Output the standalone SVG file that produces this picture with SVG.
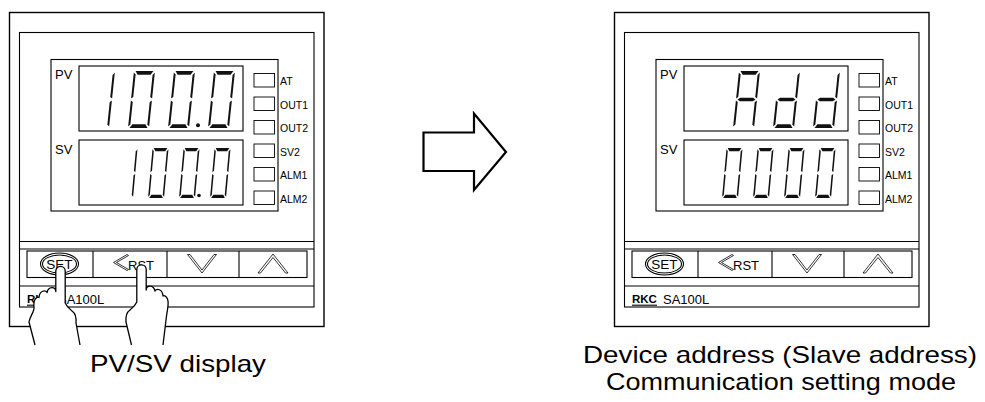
<svg xmlns="http://www.w3.org/2000/svg" width="985" height="402" viewBox="0 0 985 402">
<style>
.ln{fill:none;stroke:#000;stroke-width:1.1}
.bx{fill:#fff;stroke:#000;stroke-width:1.1}
.ob{fill:#fff;stroke:#000;stroke-width:1.4}
.ind{fill:#fff;stroke:#000;stroke-width:0.9}
.seg{fill:#111}
.t{font-family:"Liberation Sans",Arial,sans-serif;fill:#000}
.lab{font-size:10.5px}
.pvs{font-size:13px}
.cap{font-size:24px}
.chev{fill:#fff;stroke:#000;stroke-width:0.8}
.hand{fill:#fff;stroke:#000;stroke-width:1.3;stroke-linejoin:round}
</style>
<defs>
<polygon id="sa" class="seg" points="1.5,-57 19.5,-57 17,-53.3 4,-53.3"/>
<polygon id="sb" class="seg" points="19,-53 21,-55.5 21,-29.5 19,-31"/>
<polygon id="sc" class="seg" points="19,-26 21,-27.5 21,-1.5 19,-3.5"/>
<polygon id="sd" class="seg" points="4,-3.7 17,-3.7 19.5,0 1.5,0"/>
<polygon id="se" class="seg" points="0,-27.5 2,-26 2,-3.5 0,-1.5"/>
<polygon id="sf" class="seg" points="0,-55.5 2,-53.5 2,-31 0,-29.5"/>
<polygon id="sg" class="seg" points="1.5,-28.5 4,-30.3 17,-30.3 19.5,-28.5 17,-26.7 4,-26.7"/>
<g id="d0"><use href="#sa"/><use href="#sb"/><use href="#sc"/><use href="#sd"/><use href="#se"/><use href="#sf"/></g>
<g id="d1"><use href="#sb"/><use href="#sc"/></g>
<g id="dA"><use href="#sa"/><use href="#sb"/><use href="#sc"/><use href="#se"/><use href="#sf"/><use href="#sg"/></g>
<g id="dd"><use href="#sb"/><use href="#sc"/><use href="#sd"/><use href="#se"/><use href="#sg"/></g>
<g id="panel">
<rect class="ob" x="9.5" y="12.5" width="314.5" height="314"/>
<rect class="bx" x="19.5" y="32.5" width="294.5" height="274.5"/>
<rect class="bx" x="51" y="59.5" width="227" height="151.5"/>
<rect class="bx" x="79" y="66" width="164" height="65"/>
<rect class="bx" x="79" y="140" width="164" height="65"/>
<text class="t pvs" x="55" y="78.5">PV</text>
<text class="t pvs" x="55" y="153.5">SV</text>
<rect class="ind" x="254" y="73.5" width="20.5" height="13.5"/>
<rect class="ind" x="254" y="97" width="20.5" height="13.5"/>
<rect class="ind" x="254" y="120.5" width="20.5" height="13.5"/>
<rect class="ind" x="254" y="144" width="20.5" height="13.5"/>
<rect class="ind" x="254" y="167.5" width="20.5" height="13.5"/>
<rect class="ind" x="254" y="191" width="20.5" height="13.5"/>
<text class="t lab" x="280" y="85">AT</text>
<text class="t lab" x="280" y="108.5">OUT1</text>
<text class="t lab" x="280" y="132">OUT2</text>
<text class="t lab" x="280" y="155.5">SV2</text>
<text class="t lab" x="280" y="179">ALM1</text>
<text class="t lab" x="280" y="202.5">ALM2</text>
<line class="ln" x1="19.5" y1="241.5" x2="314" y2="241.5"/>
<line class="ln" x1="19.5" y1="249" x2="314" y2="249"/>
<rect class="bx" x="27" y="251" width="280" height="26.5"/>
<line class="ln" x1="93" y1="251" x2="93" y2="277.5"/>
<line class="ln" x1="167" y1="251" x2="167" y2="277.5"/>
<line class="ln" x1="239" y1="251" x2="239" y2="277.5"/>
<ellipse class="ln" cx="59.5" cy="264" rx="19" ry="11" stroke-width="0.8"/>
<ellipse class="ln" cx="59.5" cy="264" rx="17" ry="9" stroke-width="0.8"/>
<text class="t" x="59.5" y="269" font-size="13.5" text-anchor="middle">SET</text>
<polygon class="chev" points="127,254.5 113.5,262.5 127,270.5 128.5,269.5 116.5,262.5 128.5,255.5"/>
<text class="t" x="128" y="270" font-size="13">RST</text>
<polygon class="chev" points="187.5,254.5 202,273 216.5,254.5 214,254.5 202,270 190,254.5"/>
<polygon class="chev" points="258,273 273,254 288,273 285.5,273 273,257.5 260.5,273"/>
<line class="ln" x1="19.5" y1="286" x2="314" y2="286"/>
<text class="t" x="27" y="303" font-size="11.5" font-weight="bold">RKC</text>
<line class="ln" x1="27" y1="305.2" x2="52" y2="305.2" stroke-width="1.2"/>
<text class="t" x="58" y="303.5" font-size="13">SA100L</text>
</g>
</defs>

<g id="node-pvsv">
<use href="#panel"/>
<g transform="translate(88,128) skewX(-6)"><use href="#d1"/></g>
<g transform="translate(128,128) skewX(-6)"><use href="#d0"/></g>
<g transform="translate(168,128) skewX(-6)"><use href="#d0"/></g>
<g transform="translate(208,128) skewX(-6)"><use href="#d0"/></g>
<circle cx="198" cy="125.3" r="2" fill="#111"/>
<g transform="translate(117,198) scale(0.762,0.877) skewX(-6)"><use href="#d1"/></g>
<g transform="translate(148,198) scale(0.762,0.877) skewX(-6)"><use href="#d0"/></g>
<g transform="translate(179,198) scale(0.762,0.877) skewX(-6)"><use href="#d0"/></g>
<g transform="translate(210,198) scale(0.762,0.877) skewX(-6)"><use href="#d0"/></g>
<circle cx="199" cy="195.5" r="1.8" fill="#111"/>
<path class="hand" d="M 80,345 L 76,323 C 76.5,317 75,313 72,311 C 70,309 67,307 65.2,303 L 65.2,271 A 4.7,4.7 0 0 0 55.8,271 L 55.8,291.5 C 55.5,286.5 48.5,286 47,292.5 C 45.5,289.5 39.5,290.5 39,297.5 C 37,296 33,299.5 34,307.5 C 34.5,311.5 30,316 29,322 L 35,345"/>
<path class="hand" d="M 131.5,345 L 126,322 C 125.5,316 127,312 130,310 C 132,308 135,306 136.8,302 L 136.8,269.5 A 4.7,4.7 0 0 1 146.2,269.5 L 146.2,290 C 146.5,285 153.5,284.5 155,291 C 156.5,288 162.5,289 163,296 C 165,294.5 169,298 168,306 C 167.5,310 167,313 166.5,316 L 163,345"/>
<text class="t cap" x="178" y="372" text-anchor="middle" textLength="176" lengthAdjust="spacingAndGlyphs">PV/SV display</text>
</g>

<g id="node-address">
<use href="#panel" x="605"/>
<g transform="translate(733,128) skewX(-6)"><use href="#dA"/></g>
<g transform="translate(773,128) skewX(-6)"><use href="#dd"/></g>
<g transform="translate(813,128) skewX(-6)"><use href="#dd"/></g>
<g transform="translate(722,198) scale(0.762,0.877) skewX(-6)"><use href="#d0"/></g>
<g transform="translate(753,198) scale(0.762,0.877) skewX(-6)"><use href="#d0"/></g>
<g transform="translate(784,198) scale(0.762,0.877) skewX(-6)"><use href="#d0"/></g>
<g transform="translate(815,198) scale(0.762,0.877) skewX(-6)"><use href="#d0"/></g>
<text class="t cap" x="780" y="363" text-anchor="middle" textLength="394" lengthAdjust="spacingAndGlyphs">Device address (Slave address)</text>
<text class="t cap" x="781" y="390" text-anchor="middle" textLength="350" lengthAdjust="spacingAndGlyphs">Communication setting mode</text>
</g>

<g id="connectors">
<polygon points="423.5,132.5 474,132.5 474,113.5 506,152 474,190 474,171 423.5,171" fill="#fff" stroke="#000" stroke-width="2.2" stroke-linejoin="miter"/>
</g>
</svg>
